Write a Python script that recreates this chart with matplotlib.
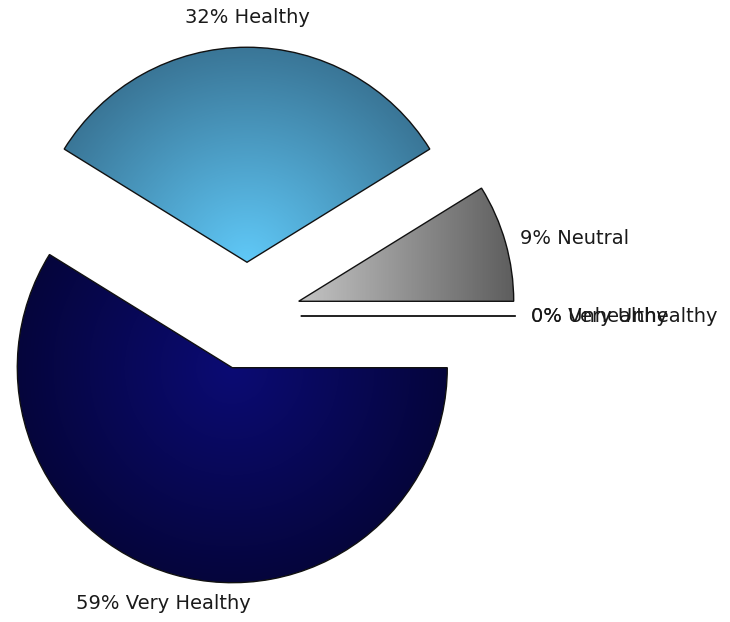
import numpy as np
import matplotlib.pyplot as plt
from matplotlib.colors import LinearSegmentedColormap

labels = ['Very Healthy', 'Healthy', 'Neutral', 'Unhealthy', 'Very Unhealthy']
counts = [20, 11, 3, 0, 0]
percents = ['59%', '32%', '9%', '0%', '0%']

# gradient stops per slice (inner -> outer), and whether it is radial or left-right
GRADIENTS = {
    'Very Healthy': (['#0b0b74', '#05053c'], 'radial'),
    'Healthy': (['#60c9f8', '#3a7697'], 'radial'),
    'Neutral': (['#c4c4c4', '#5e5e5e'], 'linear'),
}


def fill_gradient(ax, wedge, stops, kind):
    cx, cy = wedge.center
    r = wedge.r
    x0, x1, y0, y1 = cx - r, cx + r, cy - r, cy + r
    xs = np.linspace(x0, x1, 400)
    ys = np.linspace(y0, y1, 400)
    X, Y = np.meshgrid(xs, ys)
    if kind == 'radial':
        t = np.clip(np.hypot(X - cx, Y - cy) / r, 0, 1)
    else:
        t = (X - x0) / (x1 - x0)
        t = np.clip((t - 0.5) * 2.0, 0, 1)
    cmap = LinearSegmentedColormap.from_list('g', stops)
    im = ax.imshow(t, cmap=cmap, vmin=0, vmax=1, extent=(x0, x1, y0, y1),
                   origin='lower', interpolation='bilinear', zorder=1)
    im.set_clip_path(wedge)


def main():
    fig = plt.figure(figsize=(7.3, 6.22), dpi=100)
    ax = fig.add_axes([0, 0, 1, 1])

    texts_in = [f'{p} {l}' for p, l in zip(percents, labels)]
    wedges, texts = ax.pie(counts, labels=texts_in, startangle=0, counterclock=False,
                           explode=[0.25] * len(counts), labeldistance=1.07,
                           wedgeprops=dict(edgecolor='#111111', linewidth=1.0, facecolor='none'),
                           textprops=dict(fontsize=14, family='DejaVu Sans', color='#1a1a1a'))

    for lab, w in zip(labels, wedges):
        w.set_zorder(2)
        if lab in GRADIENTS:
            stops, kind = GRADIENTS[lab]
            fill_gradient(ax, w, stops, kind)

    # labels straight above / below a slice are centred and pushed out a little more
    for t, w in zip(texts, wedges):
        x, y = t.get_position()
        cx, cy = w.center
        ang = np.arctan2(y - cy, x - cx)
        if abs(np.cos(ang)) < 0.4:
            t.set_ha('center')
            t.set_position((x + 0.1 * np.cos(ang), y + 0.07 * np.sin(ang)))

    ax.set_xlim(-247 / 215, (730 - 247) / 215)
    ax.set_ylim(-(622 - 316) / 215, 316 / 215)
    ax.set_aspect('equal')
    ax.axis('off')
    fig.savefig('out.png', dpi=100)


if __name__ == '__main__':
    main()
